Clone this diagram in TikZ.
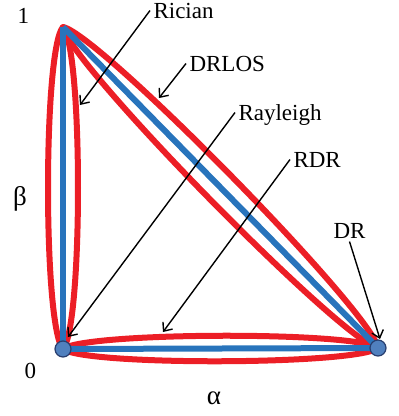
\documentclass[tikz,border=0pt]{standalone}
\usepackage{fontspec}
\setmainfont{Liberation Serif}
\usetikzlibrary{arrows.meta,calc}
\definecolor{lensred}{RGB}{236,30,38}
\definecolor{axisblue}{RGB}{40,116,188}
\definecolor{dotfill}{RGB}{80,128,190}
\definecolor{dotedge}{RGB}{40,62,110}
\tikzset{
  lens/.style={draw=lensred,line width=6pt,line join=round},
  edge/.style={draw=axisblue,line width=6pt},
  vtx/.style={circle,fill=dotfill,draw=dotedge,line width=1.2pt,minimum size=16pt,inner sep=0pt},
  lbl/.style={font=\fontsize{23}{27}\selectfont,anchor=base west,text height=15pt,text depth=0pt},
  greek/.style={font=\fontsize{27}{30}\selectfont},
  ptr/.style={-{Straight Barb[length=7pt,width=12pt]},line width=1.4pt},
}
% red lens round the edge #1--#2, bulge #3
\newcommand{\lens}[3]{%
  \draw[lens] (#1) .. controls ($(#1)!0.07!(#2)!#3!90:(#2)$) and ($(#1)!0.93!(#2)!#3!90:(#2)$) .. (#2)
    .. controls ($(#1)!0.93!(#2)!#3!-90:(#2)$) and ($(#1)!0.07!(#2)!#3!-90:(#2)$) .. cycle;}

\begin{document}
\begin{tikzpicture}[x=1pt,y=-1pt]
\useasboundingbox (0,0) rectangle (399,416);
% ---- corners of the region ----
\coordinate (T) at (63,27);
\coordinate (O) at (63,349);
\coordinate (A) at (378,348);
% ---- lenses and edges ----
\lens{T}{O}{20pt}
\lens{O}{A}{17pt}
\lens{T}{A}{21pt}
\draw[edge] (T) -- (O);
\draw[edge] (O) -- (A);
\draw[edge] (T) -- (A);
\node[vtx] (Odot) at (O) {};
\node[vtx] (Adot) at (A) {};
% ---- axis labels ----
\node[lbl] (one) at (14,23) {1};
\node[lbl] (zero) at (21,378) {0};
\node[greek] (beta) at (20,199) {β};
\node[greek] (alpha) at (214,398) {α};
% ---- distribution labels ----
\node[lbl] (rician) at (150,18) {Rician};
\node[lbl] (drlos) at (186,71) {DRLOS};
\node[lbl] (rayleigh) at (235,120) {Rayleigh};
\node[lbl] (rdr) at (290,167) {RDR};
\node[lbl] (dr) at (330,238) {DR};
\coordinate (ricianTip) at (80,105);
\coordinate (drlosTip) at (159,98);
\coordinate (rayleighTip) at (68,337);
\coordinate (rdrTip) at (163,332);
\coordinate (drTip) at (380,339);
\draw[ptr] (rician.west) -- (ricianTip);
\draw[ptr] (drlos.west) -- (drlosTip);
\draw[ptr] (rayleigh.west) -- (rayleighTip);
\draw[ptr] (rdr.west) -- (rdrTip);
\draw[ptr] (dr.south) -- (drTip);
\end{tikzpicture}
\end{document}
